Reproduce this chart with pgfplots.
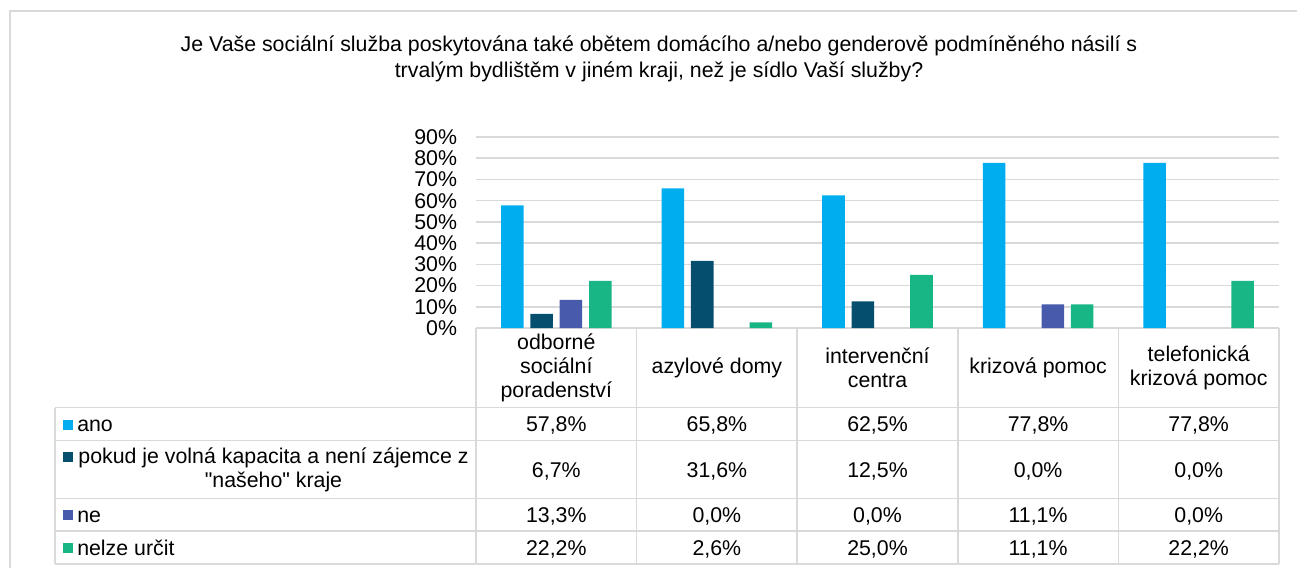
\documentclass[border=0pt]{standalone}
\usepackage{fontspec}
\setmainfont{Liberation Sans}[Ligatures=TeXOff]
\usepackage{pgfplots}
\usepackage{pgfplotstable}
\pgfplotsset{compat=1.18}
\definecolor{cano}{HTML}{00AEEF}
\definecolor{cpokud}{HTML}{054E6E}
\definecolor{cne}{HTML}{475AAB}
\definecolor{cnelze}{HTML}{18B585}
\definecolor{gridc}{HTML}{D9D9D9}

\pgfplotstableread{
x ano pokud ne nelze
0 57.8 6.7 13.3 22.2
1 65.8 31.6 0.0 2.6
2 62.5 12.5 0.0 25.0
3 77.8 0.0 11.1 11.1
4 77.8 0.0 0.0 22.2
}\datatable

\newcommand{\tf}{\fontsize{16}{18}\selectfont}
\newcommand{\tfm}{\fontsize{16}{18.2}\selectfont}

\begin{document}
\begin{tikzpicture}
\path[use as bounding box] (0,0) rectangle (1297*0.75pt,-568*0.75pt);
\begin{scope}[x=0.75pt,y=-0.75pt, txt/.style={font=\tf, inner sep=0pt}]
  % outer border
  \draw[gridc, line width=1.1pt] (10,620) -- (10,11) -- (1340,11);
  % title
  \node[txt, anchor=base] at (659,51.5) {Je Vaše sociální služba poskytována také obětem domácího a/nebo genderově podmíněného násilí s};
  \node[txt, anchor=base] at (659,77.5) {trvalým bydlištěm v jiném kraji, než je sídlo Vaší služby?};
  % table lines
  \begin{scope}[gridc, line width=1.1pt]
    \draw (476,328) -- (1279,328);
    \foreach \y in {407.7,440.7,498.3,531,564} \draw (55,\y) -- (1279,\y);
    \draw (55,407.7) -- (55,564);
    \foreach \x in {476,636.6,797.2,957.8,1118.4,1279} \draw (\x,328) -- (\x,564);
  \end{scope}
  % row labels
  \fill[cano] (63,419.5) rectangle (73,429.5);
  \node[txt, anchor=base west] at (77,431.7) {ano};
  \fill[cpokud] (63,452) rectangle (73,462);
  \node[txt, align=center, anchor=center, font=\tfm] at (273.5,469.5) {pokud je volná kapacita a není zájemce z\\"našeho" kraje};
  \fill[cne] (63,509.7) rectangle (73,519.7);
  \node[txt, anchor=base west] at (77,522.2) {ne};
  \fill[cnelze] (63,542.5) rectangle (73,552.5);
  \node[txt, anchor=base west] at (77,555) {nelze určit};
  % values
  \foreach \xx/\a/\b/\c/\d in {556.3/57{,}8/6{,}7/13{,}3/22{,}2, 716.9/65{,}8/31{,}6/0{,}0/2{,}6, 877.5/62{,}5/12{,}5/0{,}0/25{,}0, 1038.1/77{,}8/0{,}0/11{,}1/11{,}1, 1198.7/77{,}8/0{,}0/0{,}0/22{,}2} {
    \node[txt, anchor=base] at (\xx,431.7) {\a\%};
    \node[txt, anchor=base] at (\xx,477) {\b\%};
    \node[txt, anchor=base] at (\xx,522.2) {\c\%};
    \node[txt, anchor=base] at (\xx,555) {\d\%};
  }
\end{scope}
\begin{axis}[
  at={(476*0.75pt,-328*0.75pt)}, anchor=south west,
  scale only axis, width=602.25pt, height=143.25pt,
  xmin=-0.5, xmax=4.5, ymin=0, ymax=90,
  enlargelimits=false,
  ybar=5.1pt, bar width=16.9pt,
  axis line style={draw=none},
  major tick length=0pt,
  ymajorgrids, grid style={gridc, line width=1.1pt},
  ytick={0,10,...,90},
  yticklabels={0\%,10\%,20\%,30\%,40\%,50\%,60\%,70\%,80\%,90\%},
  yticklabel style={font=\tf, inner sep=0pt, anchor=east, xshift=-14pt},
  xtick={0,1,2,3,4},
  xticklabels={{odborné\\sociální\\poradenství},{azylové domy},{intervenční\\centra},{krizová pomoc},{telefonická\\krizová pomoc}},
  xticklabel style={font=\tfm, align=center, anchor=center, inner sep=0pt, yshift=-29.9pt},
  unbounded coords=discard,
  y filter/.expression={y==0 ? nan : y},
]
\addplot[fill=cano, draw=none] table[x=x,y=ano]{\datatable};
\addplot[fill=cpokud, draw=none] table[x=x,y=pokud]{\datatable};
\addplot[fill=cne, draw=none] table[x=x,y=ne]{\datatable};
\addplot[fill=cnelze, draw=none] table[x=x,y=nelze]{\datatable};
\end{axis}
\end{tikzpicture}
\end{document}
